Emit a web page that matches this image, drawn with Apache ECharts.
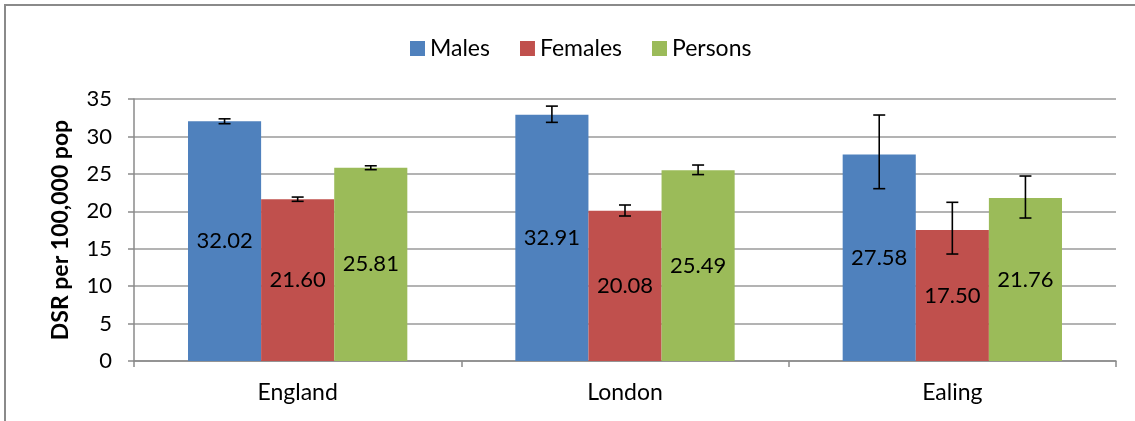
<!DOCTYPE html>
<html>
<head>
<meta charset="utf-8">
<script src="https://cdn.jsdelivr.net/npm/echarts@6/dist/echarts.min.js"></script>
<style>html,body{margin:0;padding:0;background:#fff;}#c{width:1135px;height:421px;}</style>
</head>
<body>
<div id="c"></div>
<script>
var categories = ['England', 'London', 'Ealing'];
var seriesNames = ['Males', 'Females', 'Persons'];
var males = [32.02, 32.91, 27.58];
var females = [21.60, 20.08, 17.50];
var persons = [25.81, 25.49, 21.76];
var malesLow = [31.70, 31.88, 23.02];
var malesHigh = [32.35, 34.05, 32.86];
var femalesLow = [21.33, 19.37, 14.29];
var femalesHigh = [21.90, 20.84, 21.20];
var personsLow = [25.56, 24.90, 19.10];
var personsHigh = [26.08, 26.18, 24.71];
var yTicks = [0, 5, 10, 15, 20, 25, 30, 35];

var colors = ['#4F81BD', '#C0504D', '#9BBB59'];
var FONT = 'Lato';
var catGap = 0.33;

var values = [males, females, persons];
var lows = [malesLow, femalesLow, personsLow];
var highs = [malesHigh, femalesHigh, personsHigh];

var series = [];
values.forEach(function (v, i) {
  series.push({
    name: seriesNames[i],
    type: 'bar',
    data: v,
    barGap: '0%',
    barCategoryGap: (catGap * 100) + '%',
    itemStyle: { color: colors[i] },
    label: {
      show: true, position: 'inside', color: '#000',
      fontFamily: FONT, fontSize: 22,
      formatter: function (p) { return p.value.toFixed(2); }
    },
    z: 2
  });
});
values.forEach(function (v, i) {
  var d = categories.map(function (c, k) { return [k, lows[i][k], highs[i][k]]; });
  series.push({
    type: 'custom',
    name: seriesNames[i] + ' CI',
    data: d,
    z: 5,
    silent: true,
    renderItem: function (params, api) {
      var k = api.value(0);
      var band = api.size([1, 0])[0];
      var bw = band * (1 - catGap) / 3;
      var off = (i - 1) * bw;
      var lo = api.coord([k, api.value(1)]);
      var hi = api.coord([k, api.value(2)]);
      var x = lo[0] + off;
      var cap = 6;
      var st = { stroke: '#000', lineWidth: 1.6 };
      return {
        type: 'group',
        children: [
          { type: 'line', shape: { x1: x, y1: lo[1], x2: x, y2: hi[1] }, style: st },
          { type: 'line', shape: { x1: x - cap, y1: lo[1], x2: x + cap, y2: lo[1] }, style: st },
          { type: 'line', shape: { x1: x - cap, y1: hi[1], x2: x + cap, y2: hi[1] }, style: st }
        ]
      };
    }
  });
});

var chart = echarts.init(document.getElementById('c'));
chart.setOption({
  animation: false,
  textStyle: { fontFamily: FONT },
  graphic: [{
    type: 'rect', shape: { x: 5, y: 5, width: 1300, height: 600 },
    style: { fill: 'none', stroke: '#8a8a8a', lineWidth: 2 }, z: -10, silent: true
  }],
  legend: {
    data: seriesNames,
    left: 405, top: 32,
    itemWidth: 15, itemHeight: 15, itemGap: 30,
    icon: 'rect',
    textStyle: { fontFamily: FONT, fontSize: 23, color: '#000' }
  },
  grid: { left: 134, right: 19, top: 99, bottom: 60, containLabel: false },
  xAxis: {
    type: 'category',
    data: categories,
    axisLine: { lineStyle: { color: '#8a8a8a', width: 1.5 } },
    axisTick: { show: true, length: 6, lineStyle: { color: '#8a8a8a', width: 1.5 } },
    axisLabel: { fontFamily: FONT, fontSize: 23, color: '#000', margin: 20 }
  },
  yAxis: {
    type: 'value',
    min: yTicks[0], max: yTicks[yTicks.length - 1], interval: 5,
    name: 'DSR per 100,000 pop',
    nameLocation: 'middle', nameGap: 62, nameRotate: 90,
    nameTextStyle: { fontFamily: FONT, fontSize: 23, fontWeight: 'bold', color: '#000' },
    axisLine: { show: true, lineStyle: { color: '#8a8a8a', width: 1.5 } },
    axisTick: { show: true, length: 6, lineStyle: { color: '#8a8a8a', width: 1.5 } },
    axisLabel: { fontFamily: FONT, fontSize: 22, color: '#000', margin: 22 },
    splitLine: { lineStyle: { color: '#9a9a9a', width: 1.5 } }
  },
  series: series
});
</script>
</body>
</html>
